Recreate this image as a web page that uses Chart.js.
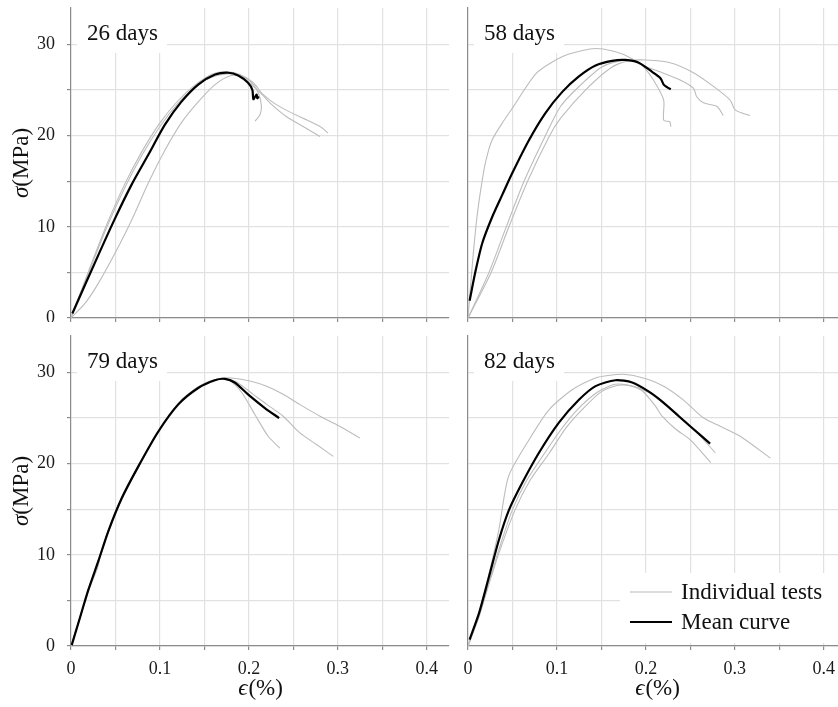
<!DOCTYPE html>
<html>
<head>
<meta charset="utf-8">
<script src="https://cdn.jsdelivr.net/npm/chart.js@4.4.1/dist/chart.umd.min.js"></script>
<style>
  html, body { margin: 0; padding: 0; background: #fff; }
  #wrap { position: relative; width: 838px; height: 707px; overflow: hidden; }
  canvas { position: absolute; }
</style>
</head>
<body>
<div id="wrap">
  <canvas id="c26" width="452" height="322" style="left:0;top:0"></canvas>
  <canvas id="c58" width="400" height="322" style="left:450px;top:0"></canvas>
  <canvas id="c79" width="452" height="379" style="left:0;top:328px"></canvas>
  <canvas id="c82" width="400" height="379" style="left:450px;top:328px"></canvas>
</div>
<script>
// tick values / labels
const xTickValues = [0, 0.05, 0.1, 0.15, 0.2, 0.25, 0.3, 0.35, 0.4];
const yTickValues = [0, 5, 10, 15, 20, 25, 30];
const panelLabels = ["26 days", "58 days", "79 days", "82 days"];
const legendLabels = ["Individual tests", "Mean curve"];

// [strain %, stress MPa]
const mean26 = [[0.0015,0.5],[0.0307,6.9],[0.0494,10.9],[0.068,14.6],[0.0869,17.9],[0.1056,21.2],[0.124,23.7],[0.143,25.6],[0.162,26.7],[0.177,26.9],[0.188,26.6],[0.199,25.8],[0.204,25.0],[0.205,24.0],[0.2086,24.5],[0.2095,24.1],[0.211,24.3]];
const tests26a = [[0,0],[0.02,5.2],[0.04,10.2],[0.06,14.6],[0.08,18.3],[0.10,21.4],[0.12,23.8],[0.14,25.6],[0.16,26.8],[0.175,27.0],[0.19,26.7],[0.205,25.8],[0.215,24.6],[0.2236,23.9],[0.231,23.4],[0.242,22.8],[0.261,21.9],[0.28,21.0],[0.289,20.3]];
const tests26b = [[0,0],[0.02,5.0],[0.04,9.9],[0.06,14.2],[0.08,17.9],[0.10,21.0],[0.12,23.5],[0.14,25.4],[0.16,26.5],[0.18,26.8],[0.195,26.3],[0.205,25.4],[0.215,24.5],[0.2236,23.6],[0.242,22.1],[0.261,21.0],[0.28,19.9]];
const tests26c = [[0,0],[0.0157,1.6],[0.0307,3.8],[0.0494,7.1],[0.068,10.7],[0.0869,14.8],[0.1056,18.4],[0.124,21.4],[0.143,23.7],[0.162,25.6],[0.18,26.6],[0.195,26.4],[0.205,25.6],[0.211,24.6],[0.214,23.3],[0.2125,22.3],[0.207,21.6]];

const mean58 = [[0.0018,1.9],[0.0086,5.2],[0.016,8.2],[0.0273,11.1],[0.0385,13.5],[0.0498,15.9],[0.0685,19.5],[0.0872,22.5],[0.106,24.8],[0.1247,26.5],[0.1434,27.7],[0.162,28.2],[0.177,28.3],[0.192,28.0],[0.207,27.0],[0.2164,26.3],[0.22,25.6],[0.224,25.3],[0.228,25.1]];
const tests58a = [[0,0],[0.005,6.0],[0.01,11.0],[0.015,14.5],[0.02,17.2],[0.027,19.5],[0.04,21.6],[0.0505,23.1],[0.0775,26.9],[0.107,28.7],[0.137,29.5],[0.152,29.5],[0.175,28.9],[0.19,28.1],[0.197,27.6],[0.2085,26.1],[0.22,23.9],[0.22,21.7],[0.227,21.5],[0.228,21.0]];
const tests58b = [[0,0],[0.0236,5],[0.043,10],[0.063,15],[0.087,20],[0.104,23.2],[0.1228,25.2],[0.15,27.5],[0.17,28.2],[0.185,28.3],[0.1936,27.8],[0.216,27.0],[0.2385,26.1],[0.2535,25.2],[0.257,24.3],[0.2647,23.6],[0.28,23.2],[0.287,22.2]];
const tests58c = [[0,0],[0.026,5],[0.046,10],[0.067,15],[0.0917,20],[0.104,21.9],[0.132,25.0],[0.16,27.4],[0.18,28.2],[0.2,28.3],[0.2273,28.0],[0.2535,26.9],[0.276,25.4],[0.2947,23.9],[0.3006,22.8],[0.317,22.2]];

const mean79 = [[0.0008,0.1],[0.0082,2.5],[0.0195,6.15],[0.0307,9.3],[0.042,12.6],[0.057,16.2],[0.0757,19.7],[0.098,23.5],[0.1206,26.5],[0.143,28.3],[0.1618,29.15],[0.173,29.3],[0.184,28.9],[0.199,27.6],[0.218,26.1],[0.234,25.0]];
const tests79a = [[0,0],[0.0082,2.6],[0.0195,6.0],[0.03,8.6],[0.033,9.8],[0.042,12.5],[0.057,16.1],[0.0757,19.6],[0.098,23.4],[0.1206,26.5],[0.143,28.4],[0.1618,29.2],[0.173,29.3],[0.1805,29.0],[0.192,27.8],[0.2067,25.4],[0.2217,23.0],[0.2348,21.7]];
const tests79b = [[0,0],[0.0082,2.4],[0.0195,6.2],[0.0307,9.4],[0.042,12.7],[0.057,16.3],[0.0757,19.8],[0.098,23.6],[0.1206,26.6],[0.143,28.4],[0.1618,29.2],[0.175,29.3],[0.187,28.9],[0.2049,27.6],[0.22,26.5],[0.2386,25.2],[0.257,23.4],[0.276,22.1],[0.2948,20.8]];
const tests79c = [[0,0],[0.0082,2.5],[0.0195,6.1],[0.0307,9.2],[0.042,12.5],[0.057,16.1],[0.0757,19.6],[0.098,23.4],[0.1206,26.4],[0.143,28.4],[0.165,29.3],[0.18,29.4],[0.2,29.1],[0.22,28.5],[0.2386,27.6],[0.257,26.5],[0.28,25.2],[0.302,24.1],[0.325,22.8]];

const mean82 = [[0.0018,0.7],[0.0124,3.6],[0.0236,7.6],[0.0348,11.65],[0.046,14.9],[0.061,17.9],[0.0798,21.2],[0.1022,24.5],[0.1247,27.0],[0.1434,28.5],[0.1658,29.15],[0.1846,28.9],[0.2034,27.9],[0.2198,26.7],[0.237,25.2],[0.2498,24.1],[0.2722,22.2]];
const tests82a = [[0,0],[0.0124,3.6],[0.0236,7.9],[0.0348,12.8],[0.0456,18.6],[0.0685,22.6],[0.091,25.9],[0.117,28.1],[0.1434,29.4],[0.16,29.7],[0.175,29.8],[0.197,29.4],[0.22,28.5],[0.242,27.0],[0.265,25.0],[0.2835,24.1],[0.306,23.0],[0.34,20.6]];
const tests82b = [[0,0],[0.0124,3.3],[0.0236,7.0],[0.0348,10.6],[0.0498,14.9],[0.065,18.0],[0.0865,21.2],[0.105,23.8],[0.1228,25.9],[0.145,27.8],[0.165,28.7],[0.18,28.6],[0.1958,28.0],[0.2108,26.3],[0.2183,25.2],[0.2333,23.8],[0.25,22.6],[0.273,20.1]];
const tests82c = [[0,0],[0.0124,3.2],[0.0236,6.8],[0.0348,10.2],[0.0528,14.9],[0.07,18.2],[0.0917,21.2],[0.11,23.9],[0.128,25.9],[0.15,27.9],[0.169,28.6],[0.185,28.5],[0.2034,27.8],[0.2183,26.7],[0.237,25.3],[0.2557,23.6],[0.278,21.2]];

const SERIF = "'Liberation Serif', 'DejaVu Serif', serif";
const GRAY = "#bcbcbc";
const AXIS = "#8c8c8c";

Chart.defaults.font.family = SERIF;
Chart.defaults.font.size = 18;
Chart.defaults.color = "#1a1a1a";

// white label box, legend and axis titles
const panelDecor = {
    id: "panelDecor",
    beforeDatasetsDraw(chart, args, opts) {
        const { ctx, chartArea } = chart;
        ctx.save();
        ctx.fillStyle = "#fff";
        ctx.fillRect(chartArea.left + 6, chartArea.top, 90, 45);
        ctx.fillStyle = "#111";
        ctx.font = "23px " + SERIF;
        ctx.textBaseline = "alphabetic";
        ctx.fillText(opts.label, chartArea.left + 16, chartArea.top + 32);

        if (opts.legend) {
            const bx = 170, by = 245;
            ctx.fillStyle = "#fff";
            ctx.fillRect(bx, by, chart.width - bx, chartArea.bottom - 3 - by);
            const rows = [
                { text: legendLabels[0], color: GRAY, width: 1.2, y: 264 },
                { text: legendLabels[1], color: "#000", width: 2.2, y: 294 }
            ];
            ctx.font = "23px " + SERIF;
            ctx.textBaseline = "middle";
            rows.forEach(r => {
                ctx.strokeStyle = r.color;
                ctx.lineWidth = r.width;
                ctx.beginPath();
                ctx.moveTo(180, r.y);
                ctx.lineTo(222, r.y);
                ctx.stroke();
                ctx.fillStyle = "#111";
                ctx.fillText(r.text, 231, r.y + 1);
            });
        }
        ctx.restore();
    },
    afterDraw(chart, args, opts) {
        const { ctx, chartArea } = chart;
        ctx.save();
        ctx.fillStyle = "#111";
        ctx.textBaseline = "middle";
        const italic = "italic 23px " + SERIF;
        const upright = "23px " + SERIF;
        if (opts.yTitle) {
            const cy = (chartArea.top + chartArea.bottom) / 2;
            ctx.translate(22, cy);
            ctx.rotate(-Math.PI / 2);
            ctx.font = italic;
            const w1 = ctx.measureText("σ").width;
            ctx.font = upright;
            const w2 = ctx.measureText("(MPa)").width;
            let x = -(w1 + w2) / 2;
            ctx.font = italic;
            ctx.fillText("σ", x, 0);
            ctx.font = upright;
            ctx.fillText("(MPa)", x + w1, 0);
            ctx.setTransform(1, 0, 0, 1, 0, 0);
        }
        if (opts.xTitle) {
            const cx = (chartArea.left + chartArea.right) / 2;
            const y = chart.height - 18;
            ctx.font = italic;
            const w1 = ctx.measureText("ϵ").width;
            ctx.font = upright;
            const w2 = ctx.measureText("(%)").width;
            let x = cx - (w1 + w2) / 2;
            ctx.font = italic;
            ctx.fillText("ϵ", x, y);
            ctx.font = upright;
            ctx.fillText("(%)", x + w1 + 1, y);
        }
        ctx.restore();
    }
};

function toXY(arr) {
    return arr.map(p => ({ x: p[0], y: p[1] }));
}

function makePanel(id, label, mean, tests, cfg) {
    const datasets = [{
        label: legendLabels[1],
        data: toXY(mean),
        borderColor: "#000",
        borderWidth: 2.2,
        pointRadius: 0,
        tension: 0.25,
        showLine: true
    }];
    tests.forEach(t => {
        datasets.push({
            label: legendLabels[0],
            data: toXY(t),
            borderColor: GRAY,
            borderWidth: 1.1,
            pointRadius: 0,
            tension: 0.25,
            showLine: true
        });
    });

    return new Chart(document.getElementById(id), {
        type: "scatter",
        data: { datasets: datasets },
        plugins: [panelDecor],
        options: {
            responsive: false,
            animation: false,
            events: [],
            layout: { padding: { top: 8, right: cfg.padRight, left: 0, bottom: 0 } },
            plugins: {
                legend: { display: false },
                tooltip: { enabled: false },
                panelDecor: {
                    label: label,
                    legend: cfg.legend,
                    xTitle: cfg.showX,
                    yTitle: cfg.showY
                }
            },
            scales: {
                x: {
                    type: "linear",
                    min: 0,
                    max: 0.425,
                    afterBuildTicks: s => { s.ticks = xTickValues.map(v => ({ value: v })); },
                    afterFit: s => {
                        s.height = cfg.xHeight;
                        s.paddingLeft = 0;
                        s.paddingRight = 0;
                    },
                    grid: { color: "#e1e1e1", lineWidth: 1.2, tickColor: AXIS, tickLength: 4 },
                    border: { color: AXIS, width: 1.2 },
                    ticks: {
                        display: cfg.showX,
                        autoSkip: false,
                        maxRotation: 0,
                        padding: 8,
                        callback: v => {
                            const r = Math.round(v * 10);
                            if (Math.abs(v * 10 - r) > 1e-6) return "";
                            return r === 0 ? "0" : (r / 10).toFixed(1);
                        }
                    }
                },
                y: {
                    type: "linear",
                    min: 0,
                    max: 34,
                    afterBuildTicks: s => { s.ticks = yTickValues.map(v => ({ value: v })); },
                    afterFit: s => {
                        s.width = cfg.yWidth;
                        s.paddingTop = 0;
                        s.paddingBottom = 0;
                    },
                    grid: {
                        color: "#e1e1e1",
                        lineWidth: 1.2,
                        tickColor: AXIS,
                        tickLength: cfg.showY ? 4 : 0,
                        drawTicks: cfg.showY
                    },
                    border: { color: AXIS, width: 1.2 },
                    ticks: {
                        display: cfg.showY,
                        autoSkip: false,
                        padding: 12,
                        callback: v => (v % 10 === 0 ? String(v) : "")
                    }
                }
            }
        }
    });
}

makePanel("c26", panelLabels[0], mean26, [tests26a, tests26b, tests26c],
    { showX: false, showY: true, legend: false, xHeight: 4, yWidth: 71, padRight: 3 });
makePanel("c58", panelLabels[1], mean58, [tests58a, tests58b, tests58c],
    { showX: false, showY: false, legend: false, xHeight: 4, yWidth: 18, padRight: 4 });
makePanel("c79", panelLabels[2], mean79, [tests79a, tests79b, tests79c],
    { showX: true, showY: true, legend: false, xHeight: 61, yWidth: 71, padRight: 3 });
makePanel("c82", panelLabels[3], mean82, [tests82a, tests82b, tests82c],
    { showX: true, showY: false, legend: true, xHeight: 61, yWidth: 18, padRight: 4 });
</script>
</body>
</html>
